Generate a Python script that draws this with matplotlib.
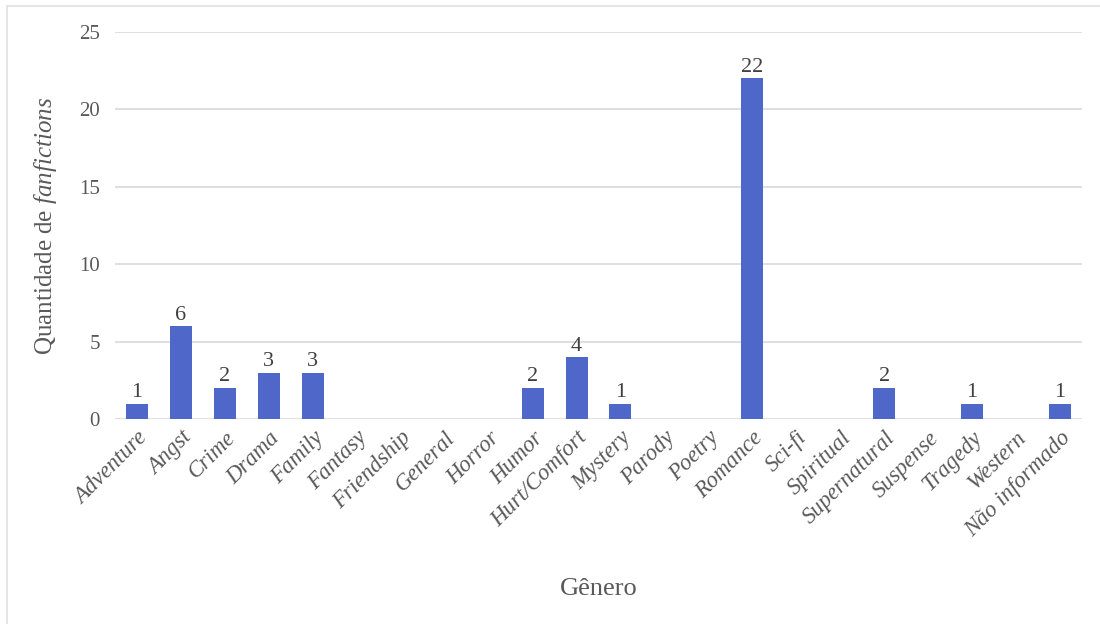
import matplotlib.pyplot as plt
from matplotlib.patches import Rectangle

# Number of fanfictions per genre
genres = ['Adventure', 'Angst', 'Crime', 'Drama', 'Family', 'Fantasy',
          'Friendship', 'General', 'Horror', 'Humor', 'Hurt/Comfort',
          'Mystery', 'Parody', 'Poetry', 'Romance', 'Sci-fi', 'Spiritual',
          'Supernatural', 'Suspense', 'Tragedy', 'Western', 'Não informado']
counts = [1, 6, 2, 3, 3, 0, 0, 0, 0, 2, 4, 1, 0, 0, 22, 0, 0, 2, 0, 1, 0, 1]
y_ticks = [0, 5, 10, 15, 20, 25]

plt.rcParams['font.family'] = ['Liberation Serif', 'DejaVu Serif']
plt.rcParams['mathtext.fontset'] = 'custom'
plt.rcParams['mathtext.rm'] = 'Liberation Serif'
plt.rcParams['mathtext.it'] = 'Liberation Serif:italic'

bar_color = '#4f67c9'
tick_color = '#595959'

fig = plt.figure(figsize=(11, 6.24), dpi=100)
ax = fig.add_axes([115 / 1100, 1 - 419 / 624, 967 / 1100, 387 / 624])

x = range(len(genres))
bars = ax.bar(x, counts, width=0.5, color=bar_color, zorder=3)

# value labels only on non-empty bars
for xi, c in zip(x, counts):
    if c > 0:
        ax.text(xi, c + 0.1, str(c), ha='center', va='bottom',
                fontsize=16, color='#404040')

ax.set_xlim(-0.5, len(genres) - 0.5)
ax.set_ylim(0, 25)
ax.set_yticks(y_ticks)
ax.set_xticks(list(x))
ax.set_xticklabels(genres, rotation=45, ha='right', rotation_mode='anchor',
                   fontstyle='italic', fontsize=16.5, color=tick_color)
ax.tick_params(axis='y', labelsize=15, labelcolor=tick_color, length=0, pad=11)
ax.tick_params(axis='x', length=0, pad=6)

ax.grid(axis='y', color='#d9d9d9', linewidth=1.2, zorder=0)
for s in ax.spines.values():
    s.set_visible(False)

ax.set_ylabel('Quantidade de $\\it{fanfictions}$', fontsize=18,
              color=tick_color, labelpad=14)
ax.set_xlabel('Gênero', fontsize=19, color=tick_color)
ax.xaxis.set_label_coords(0.5, -0.41)

# thin frame around the chart area
fig.patches.append(Rectangle((7 / 1100, -0.1), 1.2, 1.1 - 6 / 624,
                             transform=fig.transFigure, fill=False,
                             edgecolor='#e0e0e0', linewidth=1.2))

fig.savefig('out.png', dpi=100)
